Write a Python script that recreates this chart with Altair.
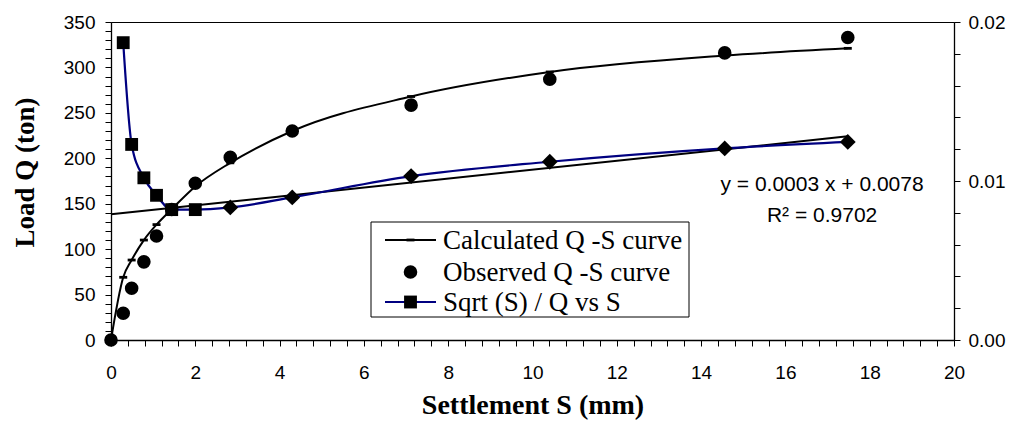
import altair as alt
import pandas as pd
import numpy as np

# Observed / calculated load-settlement data
S_obs = [0, 0.29, 0.49, 0.78, 1.08, 1.44, 2.0, 2.83, 4.30, 7.12, 10.41, 14.56, 17.48]
Q_obs = [0, 29.4, 57, 86, 114.5, 143.7, 172.5, 201, 230, 258.5, 287, 316, 333]
Q_calc = [0, 69, 88, 110, 127, 144, 169, 195, 230, 268, 295, 313, 321]

# Sqrt(S)/Q vs S (right axis): squares then diamonds
S_sq = [0.29, 0.49, 0.78, 1.08, 1.44, 2.0]
R_sq = [0.0187, 0.0123, 0.0102, 0.0091, 0.0082, 0.0082]
S_dia = [2.83, 4.30, 7.12, 10.41, 14.56, 17.48]
R_dia = [0.00834, 0.00897, 0.01031, 0.01121, 0.01205, 0.01246]

eq_lines = ["y = 0.0003 x + 0.0078", "R\u00b2 = 0.9702"]
legend_labels = ["Calculated Q -S curve", "Observed Q -S curve", "Sqrt (S) / Q vs S"]

x_ticks = [round(i * 0.4, 1) for i in range(51)]
yl_ticks = list(range(0, 351, 10))
yr_ticks = [round(i * 0.002, 3) for i in range(11)]

BLUE = "#000080"
SANS = "Liberation Sans"
SERIF = "Liberation Serif"

df_obs = pd.DataFrame({"S": S_obs, "Q": Q_obs})
df_calc = pd.DataFrame({"S": S_obs, "Q": Q_calc})
df_sq = pd.DataFrame({"S": S_sq, "R": R_sq})
df_dia = pd.DataFrame({"S": S_dia, "R": R_dia})
df_blue = pd.DataFrame({"S": S_sq + S_dia, "R": R_sq + R_dia})
slope, intercept = np.polyfit(S_dia, R_dia, 1)
df_trend = pd.DataFrame({"S": [0, S_dia[-1]],
                         "R": [intercept, intercept + slope * S_dia[-1]]})
df_eq = pd.DataFrame({"S": [16.87, 16.87], "Q": [164.3, 130.2], "t": eq_lines})
one = pd.DataFrame({"a": [0]})

x_axis = alt.Axis(values=x_ticks,
                  labelExpr="abs(datum.value/2 - round(datum.value/2)) < 0.01 ? format(datum.value, 'd') : ''",
                  tickSize=6, labelPadding=17, labelFlush=False, labelOverlap=False,
                  title="Settlement S (mm)", titleFont=SERIF, titleFontWeight="bold",
                  titleFontSize=28, titleColor="black", titlePadding=9,
                  labelFont=SANS, labelFontSize=19, labelColor="black",
                  domainColor="black", tickColor="black", domainWidth=1.3, grid=False)
x_enc = alt.X("S:Q", scale=alt.Scale(domain=[0, 20], nice=False, zero=False), axis=x_axis)

left_axis = alt.Axis(orient="left", values=yl_ticks,
                     labelExpr="datum.value % 50 == 0 ? format(datum.value, 'd') : ''",
                     tickSize=6, labelPadding=10, labelOverlap=False, labelFlush=False,
                     title="Load Q (ton)", titleFont=SERIF, titleFontWeight="bold",
                     titleFontSize=27, titleColor="black", titlePadding=24, titleY=150,
                     labelFont=SANS, labelFontSize=19, labelColor="black",
                     domainColor="black", tickColor="black", domainWidth=1.3, grid=False)
yl = alt.Y("Q:Q", scale=alt.Scale(domain=[0, 350], nice=False), axis=left_axis)

right_axis = alt.Axis(orient="right", values=yr_ticks,
                      labelExpr="abs(datum.value*100 - round(datum.value*100)) < 0.001 ? format(datum.value, '.2f') : ''",
                      tickSize=6, labelPadding=8, labelOverlap=False, labelFlush=False,
                      title=None,
                      labelFont=SANS, labelFontSize=19, labelColor="black",
                      domainColor="black", tickColor="black", domainWidth=1.3, grid=False)
yr = alt.Y("R:Q", scale=alt.Scale(domain=[0, 0.02], nice=False), axis=right_axis)

DASH = "M-1,-0.35H1V0.35H-1Z"

# ---- right-axis group
trend = alt.Chart(df_trend).mark_line(color="black", strokeWidth=2).encode(x=x_enc, y=yr)
blue = alt.Chart(df_blue).mark_line(color=BLUE, strokeWidth=2.2, interpolate="monotone").encode(x=x_enc, y=yr)
squares = alt.Chart(df_sq).mark_point(shape="square", filled=True, size=165, color="black", opacity=1).encode(x=x_enc, y=yr)
diamonds = alt.Chart(df_dia).mark_point(shape="diamond", filled=True, size=250, color="black", opacity=1).encode(x=x_enc, y=yr)
right_group = alt.layer(trend, blue, squares, diamonds)

# ---- left-axis group
calc = alt.Chart(df_calc).mark_line(color="black", strokeWidth=2, interpolate="monotone").encode(x=x_enc, y=yl)
calc_pts = alt.Chart(df_calc).mark_point(shape=DASH, filled=True, size=64, color="black", opacity=1).encode(x=x_enc, y=yl)
obs = alt.Chart(df_obs).mark_point(shape="circle", filled=True, size=185, color="black", opacity=1).encode(x=x_enc, y=yl)
eq = alt.Chart(df_eq).mark_text(font=SANS, fontSize=21, color="black", align="center",
                                baseline="alphabetic").encode(x=x_enc, y=yl, text="t:N")

# ---- manual legend (pixel layout inside the plot area)
LX0, LX1, LY0, LY1 = 260, 578, 200, 295
rows = [218, 250, 280]
SX0, SX1, SXC, TX = 274, 325, 299.5, 332
leg_box = alt.Chart(one).mark_rect(fill="white", stroke="black", strokeWidth=1).encode(
    x=alt.value(LX0), x2=alt.value(LX1), y=alt.value(LY0), y2=alt.value(LY1))
leg_l1 = alt.Chart(one).mark_rule(color="black", strokeWidth=2).encode(
    x=alt.value(SX0), x2=alt.value(SX1), y=alt.value(rows[0]))
leg_m1 = alt.Chart(one).mark_point(shape=DASH, filled=True, size=64, color="black", opacity=1).encode(
    x=alt.value(SXC), y=alt.value(rows[0]))
leg_m2 = alt.Chart(one).mark_point(shape="circle", filled=True, size=185, color="black", opacity=1).encode(
    x=alt.value(SXC), y=alt.value(rows[1]))
leg_l3 = alt.Chart(one).mark_rule(color=BLUE, strokeWidth=2.2).encode(
    x=alt.value(SX0), x2=alt.value(SX1), y=alt.value(rows[2]))
leg_m3 = alt.Chart(one).mark_point(shape="square", filled=True, size=165, color="black", opacity=1).encode(
    x=alt.value(SXC), y=alt.value(rows[2]))
leg_texts = [alt.Chart(one).mark_text(font=SERIF, fontSize=27, color="black", align="left",
                                      baseline="middle").encode(
    x=alt.value(TX), y=alt.value(rows[i] + 1), text=alt.value(legend_labels[i])) for i in range(3)]

left_group = alt.layer(calc, calc_pts, obs, eq, leg_box, leg_l1, leg_m1, leg_m2, leg_l3, leg_m3, *leg_texts)

chart = alt.layer(right_group, left_group).resolve_scale(y="independent").properties(
    width=843, height=318,
    autosize=alt.AutoSizeParams(type="none"),
    padding={"left": 103, "top": 14, "right": 53, "bottom": 82},
    background="white",
).configure_view(stroke="black", strokeWidth=1)

chart.save("out.html", embed_options={"renderer": "svg", "actions": False})
